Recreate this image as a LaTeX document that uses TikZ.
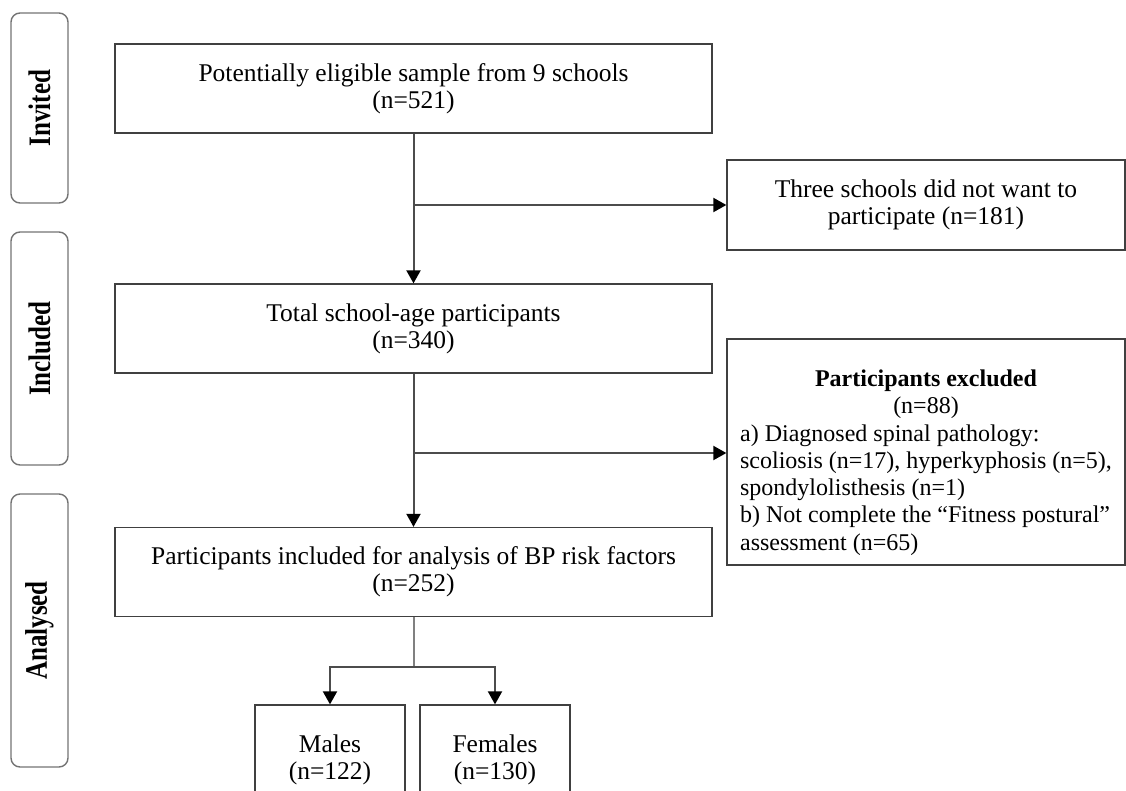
\documentclass[tikz,border=0pt]{standalone}
\usepackage{fontspec}
\setmainfont{Liberation Serif}
\usetikzlibrary{arrows.meta}

\tikzset{
  flowbox/.style={draw=black!75, line width=1.3pt, minimum width=597pt, minimum height=89pt, align=center, inner sep=0pt, execute at begin node={\rule{0pt}{26pt}}},
  sidebox/.style={draw=black!55, line width=1.4pt, rounded corners=9pt, minimum height=57pt, inner sep=0pt, rotate=90, font=\fontsize{25}{27}\selectfont\bfseries},
  link/.style={draw=black!70, line width=2pt},
  arrow/.style={link, -{Triangle[length=13pt,width=14pt,color=black]}},
}

\begin{document}
\begin{tikzpicture}[x=1pt, y=-1pt, font=\fontsize{25.5}{27}\selectfont] % {{{
\useasboundingbox (0,0) rectangle (1126,790);
\clip (0,0) rectangle (1126,790);
\pgfmathsetmacro{\colx}{413.5}
% stage labels
\node[sidebox, minimum width=190pt] (lblinvited) at (39.5,108) {\scalebox{1}[1.25]{Invited}};
\node[sidebox, minimum width=233pt] (lblincluded) at (39.5,348.5) {\scalebox{1}[1.25]{Included}};
\node[sidebox, minimum width=273pt] (lblanalysed) at (39.5,630.5) {\scalebox{1}[1.25]{Analysed}};
% main column
\node[flowbox] (eligible) at (\colx,88.5) {Potentially eligible sample from 9 schools\\(n=521)};
\node[flowbox] (total) at (\colx,328.5) {Total school-age participants\\(n=340)};
\node[flowbox] (analysed) at (\colx,572) {Participants included for analysis of BP risk factors\\(n=252)};
% side column
\node[flowbox, minimum width=398pt, minimum height=90pt] (declined) at (926,205) {Three schools did not want to\\participate (n=181)};
\node[flowbox, minimum width=398pt, minimum height=226pt, font=\fontsize{24}{27.3}\selectfont] (excluded) at (926,452)
  {\rule{0pt}{41pt}\textbf{Participants excluded}\\(n=88)\\[2pt]
   \begin{tabular}{@{}l@{}}
   a) Diagnosed spinal pathology:\\
   scoliosis (n=17), hyperkyphosis (n=5),\\
   spondylolisthesis (n=1)\\
   b) Not complete the ``Fitness postural''\\
   assessment (n=65)
   \end{tabular}};
% sex split
\node[flowbox, minimum width=150pt, minimum height=110pt] (males) at (330,760) {Males\\(n=122)};
\node[flowbox, minimum width=150pt, minimum height=110pt] (females) at (495,760) {Females\\(n=130)};
% connectors
\coordinate (split1) at (\colx,205);
\coordinate (split2) at (\colx,453);
\coordinate (split3) at (\colx,667);
\draw[arrow] (eligible) -- (total);
\draw[arrow] (split1) -- (split1 -| declined.west);
\draw[arrow] (total) -- (analysed);
\draw[arrow] (split2) -- (split2 -| excluded.west);
\draw[link, draw=black!50] (analysed) -- (split3);
\draw[arrow] (split3) -| (males.north);
\draw[arrow] (split3) -| (females.north);
\end{tikzpicture} % }}}
\end{document}
